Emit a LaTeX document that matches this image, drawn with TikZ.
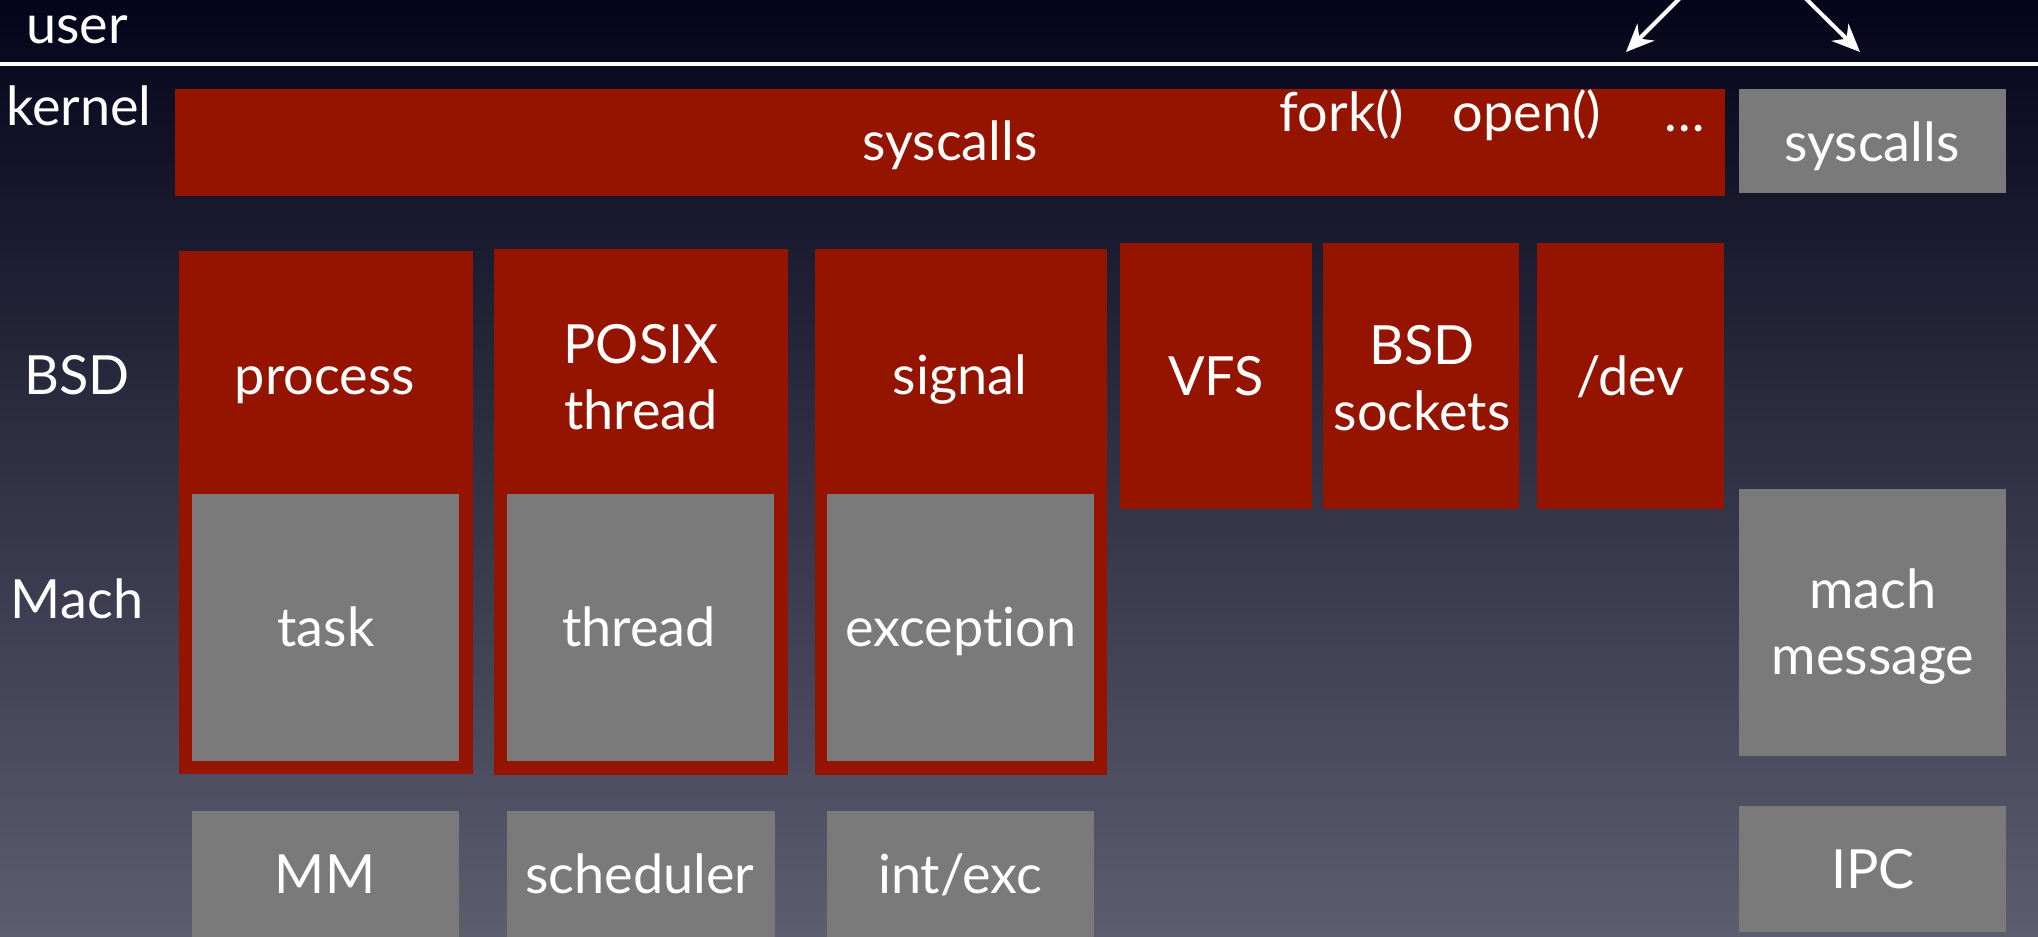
\documentclass[tikz,border=0pt]{standalone}
\usepackage{fontspec}
\setmainfont{Lato}[Ligatures=NoCommon]
\usetikzlibrary{arrows.meta}
\definecolor{kred}{RGB}{148,20,0}
\definecolor{kgray}{RGB}{122,122,122}
\definecolor{bgtop}{RGB}{4,5,26}
\definecolor{bgmid}{RGB}{40,42,70}
\definecolor{bgbot}{RGB}{93,93,112}
\newcommand\kbox[6]{\node[#6, minimum width={#4-#2}, minimum height={#5-#3}] (#1) at ({(#2+#4)/2},{(#3+#5)/2}) {};}
\begin{document}
\begin{tikzpicture}[x=1pt,y=-1pt,
  redbox/.style={fill=kred, draw=none, inner sep=0pt, outer sep=0pt, rectangle},
  graybox/.style={fill=kgray, draw=none, inner sep=0pt, outer sep=0pt, rectangle},
  lbl/.style={text=white, font=\fontsize{54}{66}\selectfont, inner sep=0pt, anchor=base, align=center},
  arr/.style={draw=white, line width=4pt, -{Stealth[length=28pt,width=24pt]}}]
\useasboundingbox (0,0) rectangle (2038,937);
\shade[top color=bgtop, middle color=bgmid, bottom color=bgbot] (0,0) rectangle (2038,937);
% divider
\coordinate (divL) at (0,64);
\coordinate (divR) at (2038,64);
\draw[white, line width=4pt] (divL) -- (divR);
% arrows
\coordinate (a1s) at (1686,-8);
\coordinate (a1e) at (1626,52);
\coordinate (a2s) at (1799,-8);
\coordinate (a2e) at (1860,52);
\draw[arr] (a1s) -- (a1e);
\draw[arr] (a2s) -- (a2e);
% boxes
\kbox{sysred}{175}{89}{1725}{196}{redbox}
\kbox{sysgray}{1739}{89}{2006}{193}{graybox}
\kbox{proc}{179}{251}{473}{774}{redbox}
\kbox{task}{192}{494}{459}{761}{graybox}
\kbox{posix}{494}{249}{788}{775}{redbox}
\kbox{mthread}{507}{494}{774}{761}{graybox}
\kbox{signal}{815}{249}{1107}{775}{redbox}
\kbox{exc}{827}{494}{1094}{761}{graybox}
\kbox{vfs}{1120}{243}{1312}{509}{redbox}
\kbox{sock}{1323}{243}{1519}{509}{redbox}
\kbox{dev}{1537}{243}{1724}{509}{redbox}
\kbox{machmsg}{1739}{489}{2006}{756}{graybox}
\kbox{ipc}{1739}{806}{2006}{932}{graybox}
\kbox{mm}{192}{811}{459}{945}{graybox}
\kbox{sched}{507}{811}{775}{945}{graybox}
\kbox{intexc}{827}{811}{1094}{945}{graybox}
% labels
\node[lbl, anchor=base west] (tuser) at (26,43) {user};
\node[lbl, anchor=base west] (tkernel) at (6,125) {kernel};
\node[lbl] (tbsd) at (77,394) {BSD};
\node[lbl] (tmach) at (77,618) {Mach};
\node[lbl] (tsysred) at (950,160) {syscalls};
\node[lbl] (tfork) at (1342,131) {fork()};
\node[lbl] (topen) at (1527,131) {open()};
\node[lbl] (tdots) at (1685,131) {…};
\node[lbl] (tsysgray) at (1872,161) {syscalls};
\node[lbl] (tproc) at (325,394) {process};
\node[lbl] (tposix) at (641,429) {POSIX\\thread};
\node[lbl] (tsignal) at (960,394) {signal};
\node[lbl] (tvfs) at (1216,395) {VFS};
\node[lbl] (tsock) at (1422,430) {BSD\\sockets};
\node[lbl] (tdev) at (1630,395) {/dev};
\node[lbl] (ttask) at (326,646) {task};
\node[lbl] (tthread) at (639,646) {thread};
\node[lbl] (texc) at (961,646) {exception};
\node[lbl] (tmachmsg) at (1873,674) {mach\\message};
\node[lbl] (tmm) at (325,893) {MM};
\node[lbl] (tsched) at (640,893) {scheduler};
\node[lbl] (tintexc) at (960,893) {int/exc};
\node[lbl] (tipc) at (1873,888) {IPC};
\end{tikzpicture}
\end{document}
